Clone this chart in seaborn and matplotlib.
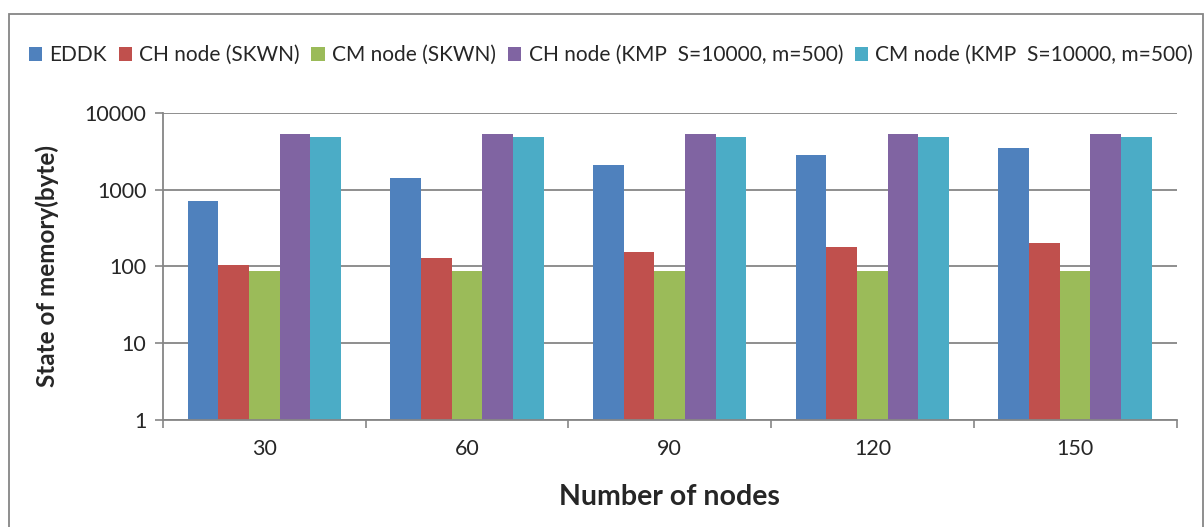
import pandas as pd
import numpy as np
import matplotlib
matplotlib.use("Agg")
import matplotlib.pyplot as plt
import seaborn as sns
from matplotlib.patches import Rectangle, Patch

# --------------------------------------------------
# DATA
# --------------------------------------------------

nodes = ["30", "60", "90", "120", "150"]

series_names = [
    "EDDK",
    "CH node (SKWN)",
    "CM node (SKWN)",
    "CH node (KMP  S=10000, m=500)",
    "CM node (KMP  S=10000, m=500)",
]

eddk = [700, 1400, 2100, 2800, 3500]
ch_skwn = [104, 128, 152, 176, 200]
cm_skwn = [88, 88, 88, 88, 88]
ch_kmp = [5280, 5280, 5280, 5280, 5280]
cm_kmp = [4830, 4830, 4830, 4830, 4830]

colors = ["#4F81BD", "#C0504D", "#9BBB59", "#8064A2", "#4BACC6"]

y_ticks = [1, 10, 100, 1000, 10000]

# --------------------------------------------------
# LONG FORM TABLE
# --------------------------------------------------

rows = []
for name, vals in zip(series_names, [eddk, ch_skwn, cm_skwn, ch_kmp, cm_kmp]):
    for n, v in zip(nodes, vals):
        rows.append({"Nodes": n, "Memory": v, "Series": name})
df = pd.DataFrame(rows)

# --------------------------------------------------
# PLOT
# --------------------------------------------------

sns.set_style("white")
plt.rcParams["font.family"] = ["Lato", "DejaVu Sans"]

fig = plt.figure(figsize=(12.04, 5.27), dpi=100)
ax = fig.add_axes([163 / 1204, 1 - 419.5 / 527,
                   (1176.5 - 163) / 1204, (419.5 - 113) / 527])

ax.set_yscale("log")
sns.barplot(
    data=df, x="Nodes", y="Memory", hue="Series",
    order=nodes, hue_order=series_names,
    palette=colors, width=0.757, saturation=1,
    edgecolor="none", ax=ax, legend=False,
)

ax.set_ylim(1, 10000)
ax.set_xlim(-0.5, len(nodes) - 0.5)

ax.set_yticks(y_ticks)
ax.set_yticklabels([str(t) for t in y_ticks], fontsize=15.5)
ax.yaxis.set_minor_locator(matplotlib.ticker.NullLocator())
ax.tick_params(axis="y", which="major", length=6, width=1.2,
               color="#868686", direction="out", left=True, pad=6)

ax.set_xticks(range(len(nodes)))
ax.set_xticklabels(nodes, fontsize=15.5)
ax.set_xticks(np.arange(-0.5, len(nodes), 1.0), minor=True)
ax.tick_params(axis="x", which="major", length=0, pad=14)
ax.tick_params(axis="x", which="minor", length=6, width=1.2,
               color="#868686", direction="out", bottom=True)

ax.yaxis.grid(True, color="#868686", linewidth=1.3)
ax.set_axisbelow(True)

for side in ["top", "right"]:
    ax.spines[side].set_visible(False)
for side in ["left", "bottom"]:
    ax.spines[side].set_color("#868686")
    ax.spines[side].set_linewidth(1.3)

ax.set_xlabel("Number of nodes", fontsize=20.5, fontweight="bold", labelpad=18)
ax.set_ylabel("State of memory(byte)", fontsize=17.5, fontweight="bold", labelpad=18)

# legend across the top
handles = [Patch(facecolor=c, edgecolor="none") for c in colors]
fig.legend(
    handles, series_names, loc="center", ncol=5,
    bbox_to_anchor=(611 / 1204, 1 - 55 / 527),
    frameon=False, fontsize=15,
    handlelength=0.65, handleheight=0.65, handletextpad=0.35,
    columnspacing=0.55,
)

# chart frame
fig.patches.append(Rectangle(
    (9 / 1204, -0.05), (1203 - 9) / 1204, 1.05 - 14 / 527,
    transform=fig.transFigure, fill=False,
    edgecolor="#868686", linewidth=1.3,
))

fig.savefig("out.png", dpi=100)
